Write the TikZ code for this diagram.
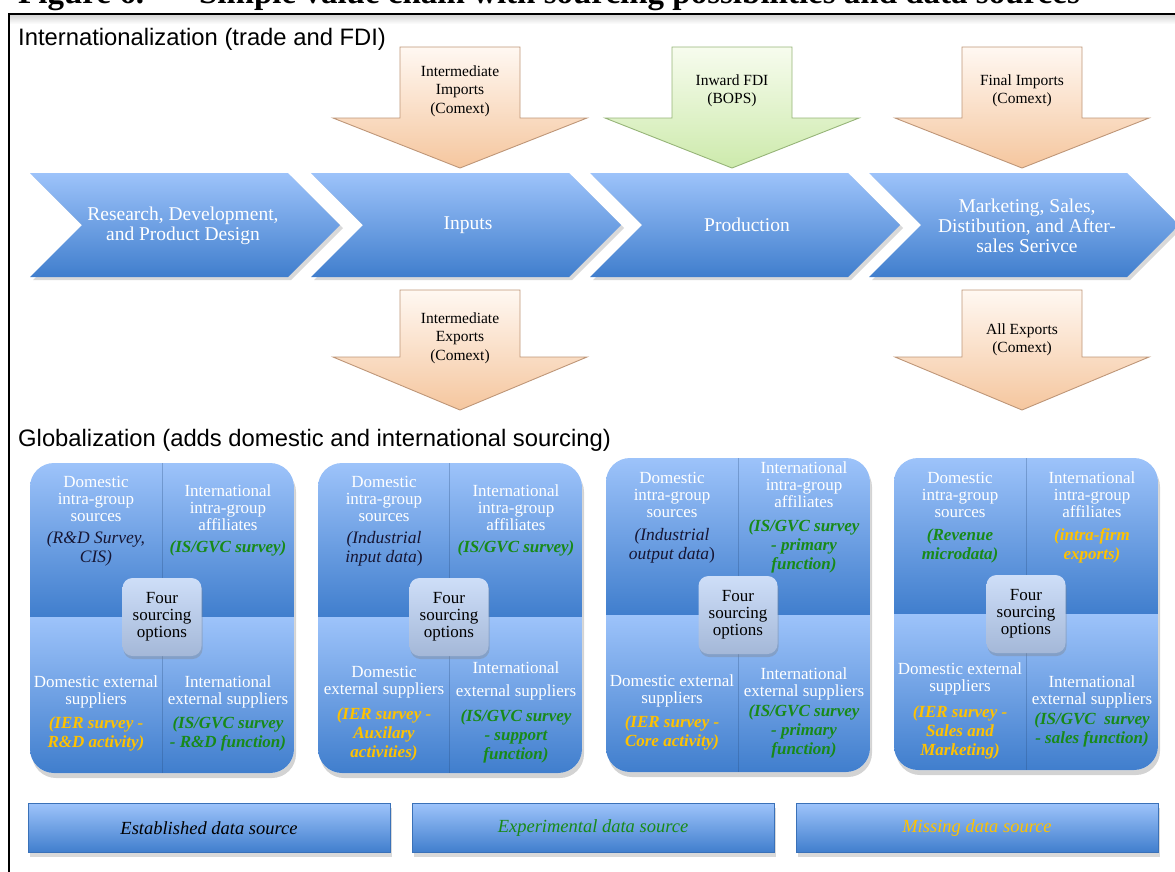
\documentclass[tikz,border=0pt]{standalone}
\usepackage{fontspec}
\setmainfont{Liberation Serif}
\newfontfamily\headfont{Liberation Sans}
\usetikzlibrary{shadows}

\definecolor{chevtop}{RGB}{157,195,250}
\definecolor{chevbot}{RGB}{64,126,205}
\definecolor{peachtop}{RGB}{255,248,242}
\definecolor{peachbot}{RGB}{245,198,158}
\definecolor{peachedge}{RGB}{190,150,120}
\definecolor{limetop}{RGB}{247,252,238}
\definecolor{limebot}{RGB}{205,234,172}
\definecolor{limeedge}{RGB}{150,180,120}
\definecolor{hubtop}{RGB}{206,222,248}
\definecolor{hubbot}{RGB}{164,184,216}
\definecolor{srcnavy}{RGB}{22,22,52}
\definecolor{srcgreen}{RGB}{24,138,24}
\definecolor{srcyellow}{RGB}{255,194,0}

\begin{document}
\begin{tikzpicture}[x=1pt,y=-1pt,
  heading/.style = {anchor=base west, inner sep=0, font=\headfont\fontsize{23.8}{25}\selectfont},
  chevron/.style = {top color=chevtop, bottom color=chevbot,
    drop shadow={opacity=0.3, shadow xshift=3pt, shadow yshift=-3pt}},
  chevtext/.style = {text=white, align=center, font=\fontsize{19.5}{20}\selectfont},
  peachfeed/.style = {top color=peachtop, bottom color=peachbot, draw=peachedge, line width=0.9pt},
  limefeed/.style = {top color=limetop, bottom color=limebot, draw=limeedge, line width=0.9pt},
  feedtext/.style = {align=center, font=\fontsize{15.5}{18.5}\selectfont},
  quadside/.style = {top color=chevtop, bottom color=chevbot},
  hub/.style = {rounded corners=10pt, minimum width=79pt, minimum height=78pt, inner sep=0,
    top color=hubtop, bottom color=hubbot, align=center,
    drop shadow={opacity=0.35, shadow xshift=1pt, shadow yshift=-3pt},
    font=\fontsize{17}{17}\selectfont},
  sourcetext/.style = {text=white, align=center, font=\fontsize{17}{17}\selectfont},
  established/.style = {text=srcnavy, align=center, font=\fontsize{17.5}{19}\itshape},
  experimental/.style = {text=srcgreen, align=center, font=\fontsize{17}{19}\bfseries\itshape},
  missing/.style = {text=srcyellow, align=center, font=\fontsize{17}{19}\bfseries\itshape},
  legend/.style = {minimum width=362pt, minimum height=49pt, inner sep=0,
    top color=chevtop, bottom color=chevbot, draw=chevbot!90!black, line width=0.8pt,
    drop shadow={opacity=0.3, shadow xshift=2pt, shadow yshift=-4pt},
    font=\fontsize{18.5}{20}\itshape}]
  \useasboundingbox (0,0) rectangle (1175,871);
  \node[anchor=base west, inner sep=0, font=\fontsize{33}{33}\bfseries] (caption) at (18,3)
    {Figure 6.\hspace{55pt}Simple value chain with sourcing possibilities and data sources};
  \shade[top color=black!18, bottom color=white] (9,14) rectangle (1175,24);
  \draw[line width=2pt] (9,880) -- (9,14) -- (1185,14);
  \node[heading] (intl) at (18,45) {Internationalization (trade and FDI)};
  \node[heading] (glob) at (18,446) {Globalization (adds domestic and international sourcing)};

  \foreach \lx in {30,311,590,869}
    \path[chevron] (\lx,173) -- ++(258,0) -- ++(52,52) -- ++(-52,52) -- ++(-258,0) -- ++(52,-52) -- cycle;
  \node[chevtext] (rnd) at (183,226) {Research, Development,\\and Product Design};
  \node[chevtext] (inputs) at (468,225) {Inputs};
  \node[chevtext] (production) at (747,225) {Production};
  \node[chevtext] (marketing) at (1027,226) {Marketing, Sales,\\Distibution, and After-\\sales Serivce};

  \foreach \cx/\ty/\sy/\tipy/\feed in {460/47/118/168/peachfeed, 732/47/118/168/limefeed,
      1022/47/118/168/peachfeed, 460/290/357/410/peachfeed, 1022/290/357/410/peachfeed}
    \path[\feed] (\cx-60,\ty) -- (\cx+60,\ty) -- (\cx+60,\sy) -- (\cx+127,\sy) -- (\cx,\tipy)
      -- (\cx-127,\sy) -- (\cx-60,\sy) -- cycle;
  \node[feedtext] (midimports) at (460,91) {Intermediate\\Imports\\(Comext)};
  \node[feedtext] (fdi) at (732,91) {Inward FDI\\(BOPS)};
  \node[feedtext] (finimports) at (1022,91) {Final Imports\\(Comext)};
  \node[feedtext] (midexports) at (460,338) {Intermediate\\Exports\\(Comext)};
  \node[feedtext] (allexports) at (1022,340) {All Exports\\(Comext)};

  \foreach \L/\T/\D/\M/\B in {30/463/162/617/773, 318/463/449/617/773, 606/458/738/615/772, 894/458/1026/614/770}{
    \path[fill=white, rounded corners=24pt, drop shadow={opacity=0.35, shadow xshift=2pt, shadow yshift=-5pt}]
      (\L,\T) rectangle (\L+264,\B);
    \begin{scope}
      \clip[rounded corners=24pt] (\L,\T) rectangle (\L+264,\B);
      \path[quadside] (\L,\T) rectangle (\L+264,\M);
      \path[quadside] (\L,\M) rectangle (\L+264,\B);
      \draw[chevbot!60!black, opacity=0.3] (\D,\T) -- (\D,\B);
    \end{scope}}

  \node[sourcetext] (rd-dig) at (96,499) {Domestic\\intra-group\\sources};
  \node[established] (rd-dig-data) at (96,549) {(R\&D Survey,\\CIS)};
  \node[sourcetext] (rd-iia) at (228,508) {International\\intra-group\\affiliates};
  \node[experimental] (rd-iia-data) at (228,548) {(IS/GVC survey)};
  \node[sourcetext] (rd-dex) at (96,692) {Domestic external\\suppliers};
  \node[missing] (rd-dex-data) at (96,734) {(IER survey -\\R\&D activity)};
  \node[sourcetext] (rd-iex) at (228,692) {International\\external suppliers};
  \node[experimental] (rd-iex-data) at (228,734) {(IS/GVC survey\\- R\&D function)};
  \node[hub] (rd-hub) at (162,617) {Four\\sourcing\\options};

  \node[sourcetext] (in-dig) at (384,499) {Domestic\\intra-group\\sources};
  \node[established] (in-dig-data) at (384,549) {(Industrial\\input data\upshape)};
  \node[sourcetext] (in-iia) at (516,508) {International\\intra-group\\affiliates};
  \node[experimental] (in-iia-data) at (516,548) {(IS/GVC survey)};
  \node[sourcetext] (in-dex) at (384,682) {Domestic\\external suppliers};
  \node[missing] (in-dex-data) at (384,734) {(IER survey -\\Auxilary\\activities)};
  \node[sourcetext] (in-iex) at (516,681) {International\\[6pt]external suppliers};
  \node[experimental] (in-iex-data) at (516,736) {(IS/GVC survey\\- support\\function)};
  \node[hub] (in-hub) at (449,617) {Four\\sourcing\\options};

  \node[sourcetext] (pr-dig) at (672,495) {Domestic\\intra-group\\sources};
  \node[established] (pr-dig-data) at (672,546) {(Industrial\\output data\upshape)};
  \node[sourcetext] (pr-iia) at (804,485) {International\\intra-group\\affiliates};
  \node[experimental] (pr-iia-data) at (804,546) {(IS/GVC survey\\- primary\\function)};
  \node[sourcetext] (pr-dex) at (672,691) {Domestic external\\suppliers};
  \node[missing] (pr-dex-data) at (672,733) {(IER survey -\\Core activity)};
  \node[sourcetext] (pr-iex) at (804,684) {International\\external suppliers};
  \node[experimental] (pr-iex-data) at (804,731) {(IS/GVC survey\\- primary\\function)};
  \node[hub] (pr-hub) at (738,615) {Four\\sourcing\\options};

  \node[sourcetext] (mk-dig) at (960,495) {Domestic\\intra-group\\sources};
  \node[experimental] (mk-dig-data) at (960,546) {(Revenue\\microdata)};
  \node[sourcetext] (mk-iia) at (1092,495) {International\\intra-group\\affiliates};
  \node[missing] (mk-iia-data) at (1092,546) {(intra-firm\\exports)};
  \node[sourcetext] (mk-dex) at (960,679) {Domestic external\\suppliers};
  \node[missing] (mk-dex-data) at (960,732) {(IER survey -\\Sales and\\Marketing)};
  \node[sourcetext] (mk-iex) at (1092,692) {International\\external suppliers};
  \node[experimental] (mk-iex-data) at (1092,730) {(IS/GVC\ \ survey\\- sales function)};
  \node[hub] (mk-hub) at (1026,614) {Four\\sourcing\\options};

  \node[legend] (established-src) at (209,828) {Established data source};
  \node[legend, text=srcgreen] (experimental-src) at (593,828) {Experimental data source};
  \node[legend, text=srcyellow] (missing-src) at (977,828) {Missing data source};
\end{tikzpicture}
\end{document}
